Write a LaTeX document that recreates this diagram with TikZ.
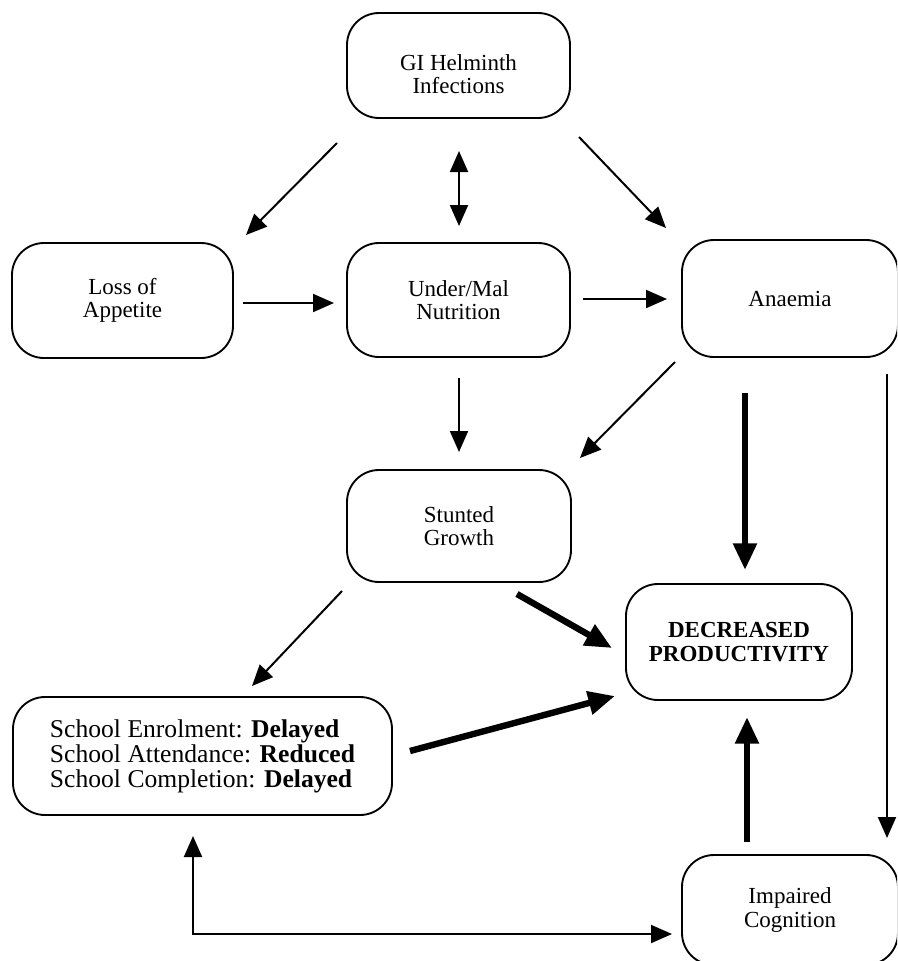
\documentclass[tikz,border=0pt]{standalone}
\usepackage{fontspec}
\setmainfont{Liberation Serif}
\usetikzlibrary{arrows.meta}
\tikzset{
  box/.style={draw, line width=1.4pt, rounded corners=24pt, align=center,
    inner sep=0pt, font=\fontsize{17.25pt}{17.5pt}\selectfont},
  boxtext/.style={align=center, inner sep=0pt, font=\fontsize{17.25pt}{17.5pt}\selectfont},
  thinarrow/.style={line width=1.5pt, -{Triangle[length=15.75pt,width=13.5pt]}},
  thickarrow/.style={line width=4.8pt, -{Triangle[length=20pt,width=17pt]}},
}
\begin{document}
\begin{tikzpicture}[x=0.75pt,y=-0.75pt]
\useasboundingbox (0,0) rectangle (897,961);
\clip (0,0) rectangle (897,961);
% boxes
\node[box, minimum width=167.25pt, minimum height=78.75pt] (gi) at (458.5,65.5) {};
\node[boxtext] (gitext) at (458.5,74) {GI Helminth\\Infections};
\node[box, minimum width=165.75pt, minimum height=86.25pt] (loss) at (122.5,300.5) {Loss of\\Appetite};
\node[box, minimum width=167.25pt, minimum height=85.5pt] (under) at (458.5,300) {Under/Mal\\Nutrition};
\node[box, minimum width=162pt, minimum height=87.75pt] (anaemia) at (790,298.5) {Anaemia};
\node[box, minimum width=168pt, minimum height=84pt] (stunted) at (459,526) {Stunted\\Growth};
\node[box, minimum width=169.5pt, minimum height=87pt] (dec) at (739,642) {\textbf{DECREASED}\\\textbf{PRODUCTIVITY}};
\node[box, minimum width=284.25pt, minimum height=88.5pt, align=left,
  font=\fontsize{19.2pt}{18.8pt}\selectfont] (school) at (202.5,756)
  {School Enrolment: \textbf{Delayed}\\School Attendance: \textbf{Reduced}\\School Completion: \textbf{Delayed}};
\node[box, minimum width=162pt, minimum height=82.5pt] (imp) at (790,910) {Impaired\\Cognition};
% connector end points
\coordinate (giL) at (337,143);   \coordinate (lossT) at (246,235);
\coordinate (giB) at (459,151);   \coordinate (underT) at (459,226);
\coordinate (giR) at (579,137);   \coordinate (anT) at (666,228);
\coordinate (lossR) at (243,303); \coordinate (underL) at (334,303);
\coordinate (underR) at (583,299);\coordinate (anL) at (667,299);
\coordinate (underB) at (459,378);\coordinate (stT) at (459,452);
\coordinate (anBL) at (675,362);  \coordinate (stTR) at (580,458);
\coordinate (anB) at (745,393);   \coordinate (decT) at (745,570);
\coordinate (anR) at (887,374);   \coordinate (impT) at (887,838);
\coordinate (stBR) at (517,594);  \coordinate (decL) at (612,648);
\coordinate (stBL) at (342,591);  \coordinate (schT) at (252,686);
\coordinate (schR) at (410,751);  \coordinate (decBL) at (615,696);
\coordinate (impU) at (747,842);  \coordinate (decB) at (747,717);
\coordinate (schB) at (193,836);  \coordinate (impL) at (672,934);
% connectors
\draw[thinarrow] (giL) -- (lossT);
\draw[thinarrow, {Triangle[length=15.75pt,width=13.5pt]}-{Triangle[length=15.75pt,width=13.5pt]}] (giB) -- (underT);
\draw[thinarrow] (giR) -- (anT);
\draw[thinarrow] (lossR) -- (underL);
\draw[thinarrow] (underR) -- (anL);
\draw[thinarrow] (underB) -- (stT);
\draw[thinarrow] (anBL) -- (stTR);
\draw[thickarrow] (anB) -- (decT);
\draw[thinarrow] (anR) -- (impT);
\draw[thickarrow] (stBR) -- (decL);
\draw[thinarrow] (stBL) -- (schT);
\draw[thickarrow] (schR) -- (decBL);
\draw[thickarrow] (impU) -- (decB);
\draw[thinarrow, {Triangle[length=15.75pt,width=13.5pt]}-{Triangle[length=15.75pt,width=13.5pt]}] (schB) |- (impL);
\end{tikzpicture}
\end{document}
